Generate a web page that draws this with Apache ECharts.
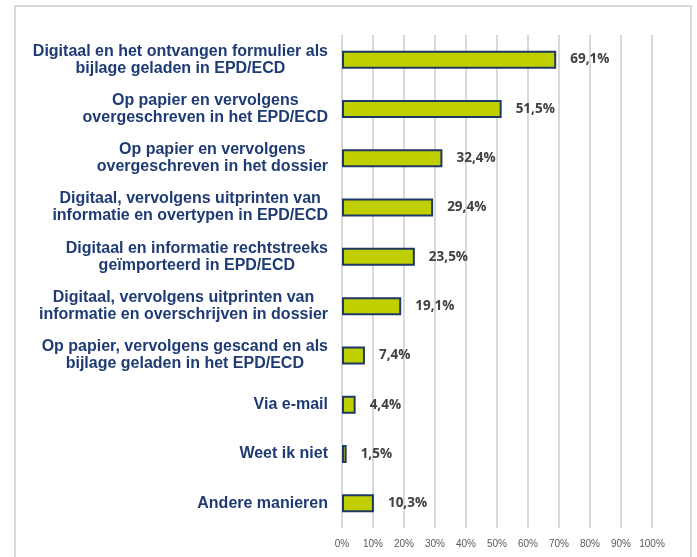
<!DOCTYPE html>
<html>
<head>
<meta charset="utf-8">
<script src="https://cdn.jsdelivr.net/npm/echarts@6/dist/echarts.min.js"></script>
<style>
    html, body { margin: 0; padding: 0; background: #fff; }
    #chart { width: 697px; height: 557px; }
</style>
</head>
<body>
<div id="chart"></div>
<script>
// categorieen (van boven naar beneden)
var categories = [
    'Digitaal en het ontvangen formulier als\nbijlage geladen in EPD/ECD',
    'Op papier en vervolgens\novergeschreven in het EPD/ECD',
    'Op papier en vervolgens\novergeschreven in het dossier',
    'Digitaal, vervolgens uitprinten van\ninformatie en overtypen in EPD/ECD',
    'Digitaal en informatie rechtstreeks\ngeïmporteerd in EPD/ECD',
    'Digitaal, vervolgens uitprinten van\ninformatie en overschrijven in dossier',
    'Op papier, vervolgens gescand en als\nbijlage geladen in het EPD/ECD',
    'Via e-mail',
    'Weet ik niet',
    'Andere manieren'
];
var percentages = [69.1, 51.5, 32.4, 29.4, 23.5, 19.1, 7.4, 4.4, 1.5, 10.3];
var xTicks = [0, 10, 20, 30, 40, 50, 60, 70, 80, 90, 100];

var myChart = echarts.init(document.getElementById('chart'));

var option = {
    backgroundColor: '#fff',
    animation: false,
    graphic: [{
        type: 'rect',
        shape: { x: 15, y: 6, width: 676, height: 560 },
        style: { fill: 'none', stroke: '#d9d9d9', lineWidth: 2 },
        silent: true
    }],
    grid: { left: 342, right: 45, top: 35, bottom: 29 },
    xAxis: {
        type: 'value',
        min: xTicks[0],
        max: xTicks[xTicks.length - 1],
        interval: 10,
        axisLine: { show: false },
        axisTick: { show: false },
        axisLabel: {
            color: '#595959',
            fontSize: 10,
            fontFamily: 'Liberation Sans, Arial, sans-serif',
            margin: 11,
            formatter: '{value}%'
        },
        splitLine: { lineStyle: { color: '#d9d9d9', width: 2 } }
    },
    yAxis: {
        type: 'category',
        data: categories,
        inverse: true,
        axisLine: { show: false },
        axisTick: { show: false },
        axisLabel: {
            margin: 14,
            formatter: function (value) {
                return value.split('\n').map(function (l) { return '{c|' + l + '}'; }).join('\n');
            },
            rich: {
                c: {
                    align: 'center',
                    color: '#1f3b73',
                    fontSize: 16,
                    fontWeight: 'bold',
                    fontFamily: 'Liberation Sans, Arial, sans-serif',
                    lineHeight: 17
                }
            }
        }
    },
    series: [{
        type: 'bar',
        data: percentages,
        barWidth: 18,
        itemStyle: {
            color: '#bfcf00',
            borderColor: '#1f3864',
            borderWidth: 2
        },
        label: {
            show: true,
            position: 'right',
            distance: 14,
            color: '#404040',
            fontSize: 13.5,
            fontWeight: 'bold',
            fontFamily: 'Open Sans, Liberation Sans, sans-serif',
            formatter: function (p) {
                return p.value.toFixed(1).replace('.', ',') + '%';
            }
        }
    }]
};

myChart.setOption(option);
</script>
</body>
</html>
